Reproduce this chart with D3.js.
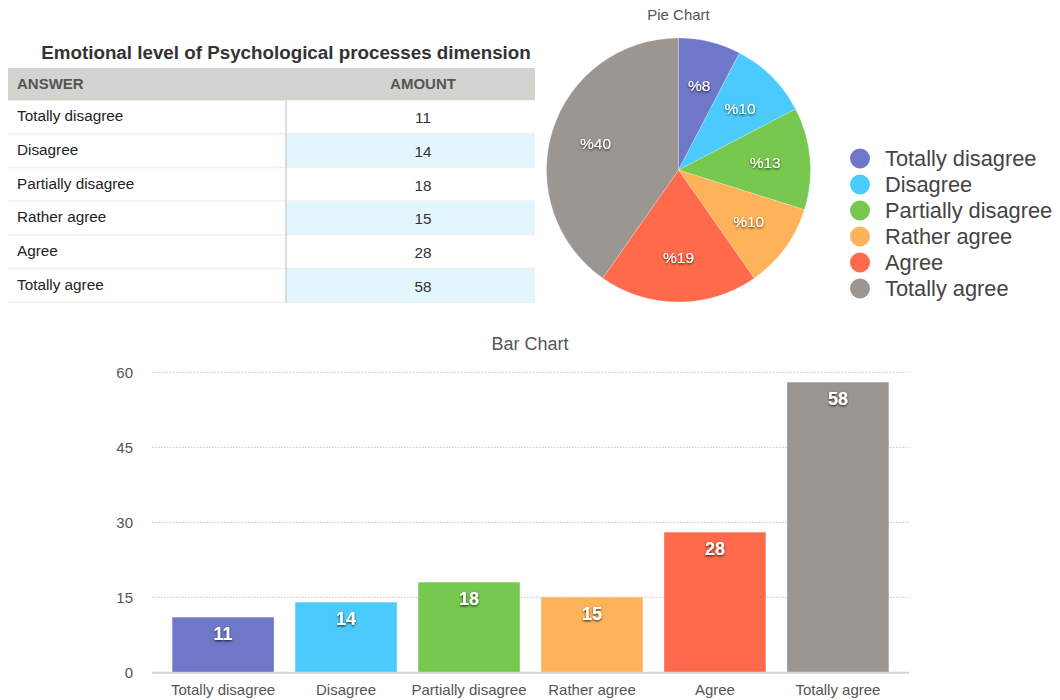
<!DOCTYPE html>
<html>
<head>
<meta charset="utf-8">
<script src="https://cdn.jsdelivr.net/npm/d3@7"></script>
<style>
  html, body { margin: 0; padding: 0; background: #fff; }
  svg { display: block; font-family: "Liberation Sans", Arial, Helvetica, sans-serif; }
</style>
</head>
<body>
<svg id="chart" width="1060" height="700"></svg>
<script>
// Survey answers and counts
const categories = ["Totally disagree", "Disagree", "Partially disagree", "Rather agree", "Agree", "Totally agree"];
const amounts = [11, 14, 18, 15, 28, 58];
const colors = ["#6f77c8", "#4bcbfd", "#77c84f", "#feb35b", "#fe6a4a", "#9b9691"];
const yTicks = [0, 15, 30, 45, 60];
const tableTitle = "Emotional level of Psychological processes dimension";
const tableHeaders = ["ANSWER", "AMOUNT"];

const svg = d3.select("#chart");
const defs = svg.append("defs");
const shadow = defs.append("filter").attr("id", "txtShadow")
  .attr("x", "-30%").attr("y", "-30%").attr("width", "160%").attr("height", "160%");
shadow.append("feDropShadow").attr("dx", 0).attr("dy", 1.2).attr("stdDeviation", 0.9)
  .attr("flood-color", "#000").attr("flood-opacity", 0.75);

const data = categories.map((c, i) => ({ name: c, value: amounts[i], color: colors[i] }));
const total = d3.sum(amounts);

// ---------- Table ----------
const tbl = { x0: 8, x1: 535, xDiv: 286, headTop: 68, headBottom: 100.5, rowH: 33.7 };
const tg = svg.append("g");
tg.append("text")
  .attr("x", 286).attr("y", 59)
  .attr("text-anchor", "middle")
  .attr("font-size", 18.8).attr("font-weight", "bold").attr("fill", "#333")
  .text(tableTitle);

tg.append("rect")
  .attr("x", tbl.x0).attr("y", tbl.headTop)
  .attr("width", tbl.x1 - tbl.x0).attr("height", tbl.headBottom - tbl.headTop)
  .attr("fill", "#d3d3cf");
tg.append("text").attr("x", 17).attr("y", 89)
  .attr("font-size", 15).attr("font-weight", "bold").attr("fill", "#555")
  .text(tableHeaders[0]);
tg.append("text").attr("x", 423).attr("y", 89).attr("text-anchor", "middle")
  .attr("font-size", 15).attr("font-weight", "bold").attr("fill", "#555")
  .text(tableHeaders[1]);

const rows = tg.selectAll("g.row").data(data).join("g")
  .attr("class", "row")
  .attr("transform", (d, i) => `translate(0,${tbl.headBottom + i * tbl.rowH})`);
rows.append("rect")
  .attr("x", tbl.xDiv).attr("y", 0)
  .attr("width", tbl.x1 - tbl.xDiv).attr("height", tbl.rowH)
  .attr("fill", (d, i) => i % 2 === 1 ? "#e3f6fd" : "#fff");
rows.append("line")
  .attr("x1", tbl.x0).attr("x2", tbl.x1)
  .attr("y1", tbl.rowH - 0.5).attr("y2", tbl.rowH - 0.5)
  .attr("stroke", "#f0f0f0").attr("stroke-width", 1.5);
rows.append("text")
  .attr("x", 17).attr("y", tbl.rowH / 2 + 4)
  .attr("font-size", 15.3).attr("fill", "#222")
  .text(d => d.name);
rows.append("text")
  .attr("x", 423).attr("y", tbl.rowH / 2 + 6)
  .attr("text-anchor", "middle")
  .attr("font-size", 15.3).attr("fill", "#333")
  .text(d => d.value);
tg.append("line")
  .attr("x1", tbl.xDiv).attr("x2", tbl.xDiv)
  .attr("y1", tbl.headBottom).attr("y2", tbl.headBottom + data.length * tbl.rowH)
  .attr("stroke", "#c8c8c8").attr("stroke-width", 1.2);

// ---------- Pie chart ----------
const pieCx = 678.5, pieCy = 170, pieR = 132;
svg.append("text")
  .attr("x", pieCx).attr("y", 20).attr("text-anchor", "middle")
  .attr("font-size", 15).attr("fill", "#555")
  .text("Pie Chart");

const pie = d3.pie().value(d => d.value).sort(null);
const arc = d3.arc().innerRadius(0).outerRadius(pieR);
const labelArc = d3.arc().innerRadius(87).outerRadius(87);
const pg = svg.append("g").attr("transform", `translate(${pieCx},${pieCy})`);
const arcs = pie(data);
pg.selectAll("path").data(arcs).join("path")
  .attr("d", arc)
  .attr("fill", d => d.data.color)
  .attr("stroke", "rgba(255,255,255,0.35)").attr("stroke-width", 0.6);
pg.selectAll("text").data(arcs).join("text")
  .attr("transform", d => `translate(${labelArc.centroid(d)})`)
  .attr("text-anchor", "middle").attr("dy", "0.36em")
  .attr("font-size", 15.5).attr("font-weight", 500).attr("fill", "#fff")
  .attr("filter", "url(#txtShadow)")
  .text(d => "%" + Math.round(d.data.value / total * 100));

// Legend
const lg = svg.append("g").attr("transform", "translate(860,158.5)");
const li = lg.selectAll("g").data(data).join("g")
  .attr("transform", (d, i) => `translate(0,${i * 26})`);
li.append("circle").attr("r", 10).attr("fill", d => d.color);
li.append("text").attr("x", 25).attr("dy", "0.36em")
  .attr("font-size", 21.8).attr("fill", "#444")
  .text(d => d.name);

// ---------- Bar chart ----------
const bx0 = 152, bx1 = 909, by0 = 672.3, by1 = 372.3;
svg.append("text")
  .attr("x", 530).attr("y", 349.5).attr("text-anchor", "middle")
  .attr("font-size", 18).attr("fill", "#555")
  .text("Bar Chart");

const x = d3.scaleBand().domain(categories).range([bx0, bx1])
  .paddingInner(0.174).paddingOuter(0.165);
const y = d3.scaleLinear().domain([0, 60]).range([by0, by1]);

const bg = svg.append("g");
// dotted gridlines
bg.selectAll("line.grid").data(yTicks.filter(t => t > 0)).join("line")
  .attr("class", "grid")
  .attr("x1", bx0).attr("x2", bx1)
  .attr("y1", d => y(d)).attr("y2", d => y(d))
  .attr("stroke", "#c4c4c4").attr("stroke-width", 1)
  .attr("stroke-dasharray", "1.5,1.5");

const yAxis = d3.axisLeft(y).tickValues(yTicks).tickSize(0).tickPadding(0);
const yg = bg.append("g").attr("transform", "translate(133,0)").call(yAxis);
yg.select(".domain").remove();
yg.selectAll("text").attr("font-size", 15).attr("fill", "#555")
  .attr("font-family", "Liberation Sans, Arial, sans-serif");

bg.selectAll("rect.bar").data(data).join("rect")
  .attr("class", "bar")
  .attr("x", d => x(d.name)).attr("width", x.bandwidth())
  .attr("y", d => y(d.value)).attr("height", d => y(0) - y(d.value))
  .attr("fill", d => d.color);

// baseline
bg.append("line")
  .attr("x1", bx0).attr("x2", bx1).attr("y1", by0 + 0.5).attr("y2", by0 + 0.5)
  .attr("stroke", "#d4d4d4").attr("stroke-width", 2);

const xAxis = d3.axisBottom(x).tickSize(0).tickPadding(0);
const xg = bg.append("g").attr("transform", `translate(0,${by0 + 23})`).call(xAxis);
xg.select(".domain").remove();
xg.selectAll("text").attr("font-size", 15).attr("fill", "#555")
  .attr("font-family", "Liberation Sans, Arial, sans-serif").attr("dy", "0");

bg.selectAll("text.val").data(data).join("text")
  .attr("class", "val")
  .attr("x", d => x(d.name) + x.bandwidth() / 2)
  .attr("y", d => y(d.value) + 16).attr("dy", "0.36em")
  .attr("text-anchor", "middle")
  .attr("font-size", 18).attr("font-weight", "bold").attr("fill", "#fff")
  .attr("filter", "url(#txtShadow)")
  .text(d => d.value);
</script>
</body>
</html>
